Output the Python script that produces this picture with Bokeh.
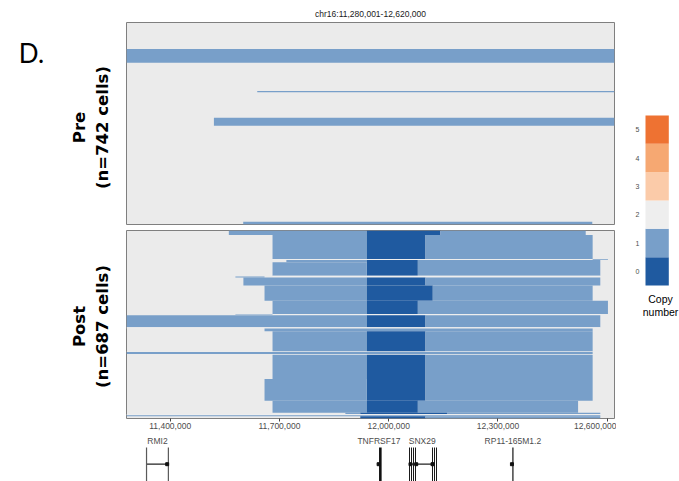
import math
from bokeh.plotting import figure
from bokeh.models import Range1d, ColumnDataSource, FixedTicker, NumeralTickFormatter
from bokeh.layouts import row, column
from bokeh.embed import file_html
from bokeh.resources import INLINE
from bokeh.core.properties import value

# ---------------- data ----------------
region_start = 11280001
region_end = 12620000
region_title = "chr16:11,280,001-12,620,000"
panel_tag = "D."

copy_levels = [0, 1, 2, 3, 4, 5]
copy_colors = ["#1F5AA0", "#789FC9", "#EEEEEE", "#FBCBA9", "#F6A872", "#EE7232"]

pre_name = "Pre"
pre_count = "(n=742 cells)"
pre_cells = 742
pre_cell_from = [97, 252, 350, 732]
pre_cell_to = [148, 256, 379, 742]
pre_start = [11280001, 11639000, 11520000, 11600500]
pre_end = [12620000, 12620000, 12620000, 12559000]
pre_cn = [1, 1, 1, 1]

post_name = "Post"
post_count = "(n=687 cells)"
post_cells = 687
post_cell_from = [0, 0, 0, 16, 16, 16, 104, 105, 108, 108, 108, 116, 165, 168, 172, 172, 172,
                  201, 201, 201, 257, 257, 257, 305, 305, 310, 310, 310, 354, 358, 368, 368, 368,
                  442, 444, 451, 454, 454, 454, 543, 622, 622, 622, 666, 666, 666, 671, 675, 679, 679]
post_cell_to = [16, 16, 16, 104, 104, 104, 107, 108, 116, 165, 165, 165, 172, 172, 201, 201, 201,
                257, 257, 257, 305, 305, 305, 310, 307, 354, 354, 354, 358, 368, 442, 442, 442,
                444, 451, 454, 543, 622, 622, 622, 666, 666, 666, 671, 671, 671, 675, 679, 687, 687]
post_start = [11561000, 11940000, 12142000, 11681000, 11940000, 12101000, 11681000, 12560000,
              11719000, 11940000, 12080000, 11681000, 11681000, 11579000, 11601000, 11940000,
              12101000, 11659000, 11940000, 12121000, 11681000, 11940000, 12080000, 11681000,
              11579000, 11280001, 11940000, 12101000, 11280001, 11659000, 11681000, 11940000,
              12101000, 11280001, 11280001, 11681000, 11681000, 11940000, 12101000, 11659000,
              11681000, 11940000, 12080000, 11881000, 11922000, 12160000, 11280001, 11280001,
              11922000, 12101000]
post_end = [11940000, 12142000, 12541000, 11940000, 12101000, 12560000, 12560000, 12602000,
            11940000, 12080000, 12581000, 11940000, 12581000, 11659000, 11940000, 12101000,
            12581000, 11940000, 12121000, 12560000, 11940000, 12080000, 12602000, 12581000,
            11681000, 11940000, 12101000, 12581000, 12581000, 12560000, 11940000, 12101000,
            12560000, 12560000, 12560000, 12560000, 11940000, 12101000, 12560000, 11940000,
            11940000, 12080000, 12520000, 11922000, 12160000, 12581000, 12581000, 12581000,
            12101000, 12581000]
post_cn = [1, 0, 1, 1, 0, 1, 2, 1, 1, 0, 1, 1, 2, 1, 1, 0, 1,
           1, 0, 1, 1, 0, 1, 2, 1, 1, 0, 1, 2, 1, 1, 0, 1,
           2, 1, 2, 1, 0, 1, 1, 1, 0, 1, 1, 0, 1, 2, 1, 0, 1]

x_ticks = [11400000, 11700000, 12000000, 12300000, 12600000]

gene_names = ["RMI2", "TNFRSF17", "SNX29", "RP11-165M1.2"]
gene_start = [11335000, 11977000, 12057100, 12341000]
gene_end = [11395000, 11977000, 12123900, 12341000]
gene_label_pos = [11365000, 11973000, 12092000, 12341000]
exon_pos = [11335000, 11395000, 11977000, 12057100, 12062600, 12068100, 12073600,
            12120250, 12125750, 12131250, 12341000]
exon_gene = [0, 0, 1, 2, 2, 2, 2, 2, 2, 2, 3]
strand_mark_pos = [11391700, 11972300, 12059850, 12075500, 12120250, 12338400]

# ---------------- layout constants ----------------
LEFT_W = 126
FRAME_W = 488
RIGHT = 2
COL_W = FRAME_W + RIGHT
LEG_W = 679 - LEFT_W - COL_W
TOTAL_H = 481
TITLE_H = 22
PRE_H = 205
POST_H = 207
GENE_H = TOTAL_H - TITLE_H - PRE_H - POST_H
TICK_FONT = "Liberation Sans"
LABEL_FONT = "DejaVu Sans"
gene_widths = [1.2, 2.6, 1.0, 1.5]
gene_line_colors = ["#5A5A5A", "#111111", "#1A1A1A", "#444444"]

x_range = Range1d(region_start, region_end)


def bare(width, height, xr, yr, **kw):
    p = figure(width=width, height=height, x_range=xr, y_range=yr, tools="",
               toolbar_location=None, output_backend="svg",
               x_axis_location=kw.pop("x_axis_location", None), y_axis_location=None,
               min_border_left=0, min_border_right=kw.pop("right", 0),
               min_border_top=kw.pop("top", 0), min_border_bottom=kw.pop("bottom", 0))
    p.outline_line_color = None
    p.background_fill_color = "white"
    p.border_fill_color = "white"
    p.grid.grid_line_color = None
    return p


def make_panel(height, top, bottom, n_cells, with_axis):
    p = bare(COL_W, height, x_range, Range1d(n_cells, 0), right=RIGHT, top=top,
             bottom=bottom, x_axis_location="below" if with_axis else None)
    p.background_fill_color = "#EBEBEB"
    p.outline_line_color = "#7F7F7F"
    p.outline_line_width = 1
    return p


def add_cells(p, start, end, cfrom, cto, cn):
    src = ColumnDataSource(dict(left=start, right=end, top=cfrom, bottom=cto,
                                color=[copy_colors[c] for c in cn]))
    p.quad(left="left", right="right", top="top", bottom="bottom",
           fill_color="color", line_color=None, source=src)


# ---- title strip ----
pT = bare(COL_W, TITLE_H, x_range, Range1d(0, TITLE_H), right=RIGHT)
pT.text(x=[(region_start + region_end) / 2], y=[9], text=[region_title],
        text_align="center", text_baseline="middle", text_font=value(TICK_FONT),
        text_font_size="8.5px", text_color="#1A1A1A")

# ---- Pre panel ----
pA = make_panel(PRE_H, 0, 3, pre_cells, False)
add_cells(pA, pre_start, pre_end, pre_cell_from, pre_cell_to, pre_cn)

# ---- Post panel ----
pB = make_panel(POST_H, 3, 16, post_cells, True)
add_cells(pB, post_start, post_end, post_cell_from, post_cell_to, post_cn)
ax = pB.xaxis[0]
ax.ticker = FixedTicker(ticks=x_ticks)
ax.formatter = NumeralTickFormatter(format="0,0")
ax.axis_line_color = None
ax.major_tick_in = 0
ax.major_tick_out = 3
ax.minor_tick_out = 0
ax.minor_tick_in = 0
ax.major_tick_line_color = "#444444"
ax.major_label_standoff = 1
ax.major_label_text_font = TICK_FONT
ax.major_label_text_font_size = "8.5px"
ax.major_label_text_color = "#4D4D4D"

# ---- gene track ----
pC = bare(COL_W, GENE_H, x_range, Range1d(0, GENE_H), right=RIGHT)
pC.segment(x0=gene_start, x1=gene_end, y0=17.3, y1=17.3, line_color="#222222", line_width=1.2)
exon_src = ColumnDataSource(dict(x=exon_pos,
                                 w=[gene_widths[g] for g in exon_gene],
                                 c=[gene_line_colors[g] for g in exon_gene]))
pC.segment(x0="x", x1="x", y0=-5, y1=34, line_width="w", line_color="c", source=exon_src)
pC.scatter(x=strand_mark_pos, y=[17.3] * len(strand_mark_pos), marker="square", size=3,
           color="#111111")
pC.text(x=gene_label_pos, y=[41] * len(gene_names), text=gene_names,
        text_align="center", text_baseline="middle", text_font=value(TICK_FONT),
        text_font_size="8.5px", text_color="#4D4D4D")

# ---- left strip: tag and row labels ----
pLeft = bare(LEFT_W, TOTAL_H, Range1d(0, LEFT_W), Range1d(TOTAL_H, 0))
pLeft.text(x=[31], y=[52], text=[panel_tag], text_align="center", text_baseline="middle",
           text_font=value("Lato"), text_font_size="26px", text_color="black")
pLeft.text(x=[79, 102, 79, 102], y=[127, 127, 326, 326],
           text=[pre_name, pre_count, post_name, post_count], angle=math.pi / 2,
           text_align="center", text_baseline="middle", text_font=value(LABEL_FONT),
           text_font_style="bold", text_font_size="16.5px", text_color="black")

# ---- legend ----
unit = 170 / 6.0
pL = bare(LEG_W, TOTAL_H, Range1d(0, LEG_W),
          Range1d(-0.5 - (TOTAL_H - 285) / unit, 5.5 + 115 / unit))
pL.quad(left=29, right=52.3, bottom=[c - 0.5 for c in copy_levels],
        top=[c + 0.5 for c in copy_levels], fill_color=copy_colors, line_color=None)
pL.text(x=21, y=copy_levels, text=[str(c) for c in copy_levels], text_align="center",
        text_baseline="middle", text_font=value(TICK_FONT), text_font_size="7px",
        text_color="#4D4D4D")
pL.text(x=[44, 44], y=[-0.5 - 13 / unit, -0.5 - 26 / unit], text=["Copy", "number"],
        text_align="center", text_baseline="middle", text_font=value(TICK_FONT),
        text_font_size="10.5px", text_color="black")

layout = row(pLeft, column(pT, pA, pB, pC), pL)
open("out.html", "w").write(file_html(layout, INLINE))
